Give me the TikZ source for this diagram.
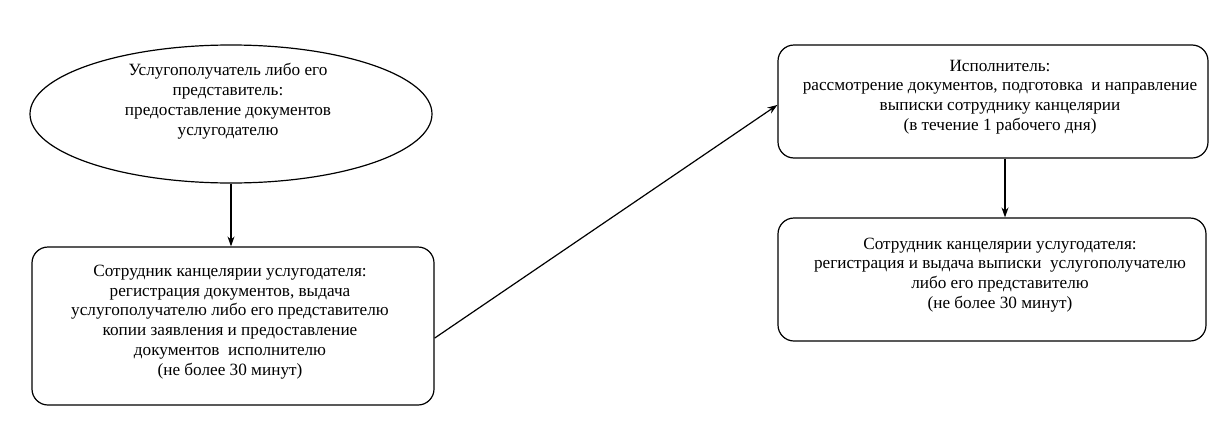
\documentclass[tikz,border=0pt]{standalone}
\usepackage{fontspec}
\setmainfont{Liberation Serif}
\usetikzlibrary{shapes.geometric,arrows.meta,calc}
\begin{document}
\begin{tikzpicture}[x=1pt,y=1pt,
  line width=1.2pt,
  stagebox/.style={draw, rounded corners=16pt, inner sep=0pt},
  startshape/.style={draw, ellipse, inner sep=0pt},
  caption/.style={align=center, font=\fontsize{17.2}{19.8}\selectfont, inner sep=0pt},
  flow/.style={-{Stealth[length=10pt,width=7pt]}, line width=1.2pt}]
\fill[white] (0,0) rectangle (1231,-442);
\useasboundingbox (0,0) rectangle (1231,-442);

% applicant
\node[startshape, minimum width=402pt, minimum height=138pt] (client) at (231,-114) {};
\node[caption] (clientText) at (228,-101)
  {Услугополучатель либо его\\представитель:\\предоставление документов\\услугодателю};

% office clerk, intake
\node[stagebox, minimum width=402pt, minimum height=158pt] (intake) at (233,-326) {};
\node[caption] (intakeText) at (230,-322)
  {Сотрудник канцелярии услугодателя:\\регистрация документов, выдача\\услугополучателю либо его представителю\\копии заявления и предоставление\\документов~ исполнителю\\(не более 30 минут)};

% executor
\node[stagebox, minimum width=430pt, minimum height=113pt] (exec) at (993,-101.5) {};
\node[caption] (execText) at (1000,-97)
  {Исполнитель:\\рассмотрение документов, подготовка~ и направление\\выписки сотруднику канцелярии\\(в течение 1 рабочего дня)};

% office clerk, issue
\node[stagebox, minimum width=428pt, minimum height=123pt] (issue) at (992,-279.5) {};
\node[caption] (issueText) at (1000,-275)
  {Сотрудник канцелярии услугодателя:\\регистрация и выдача выписки~ услугополучателю\\либо его представителю\\(не более 30 минут)};

% connectors
\draw[flow] (client.south) -- (client.south |- intake.north);
\draw[flow] ($(intake.north east)!0.576!(intake.south east)$) -- ($(exec.north west)!0.53!(exec.south west)$);
\coordinate (downx) at (1005,0);
\draw[flow] (downx |- exec.south) -- (downx |- issue.north);
\end{tikzpicture}
\end{document}
